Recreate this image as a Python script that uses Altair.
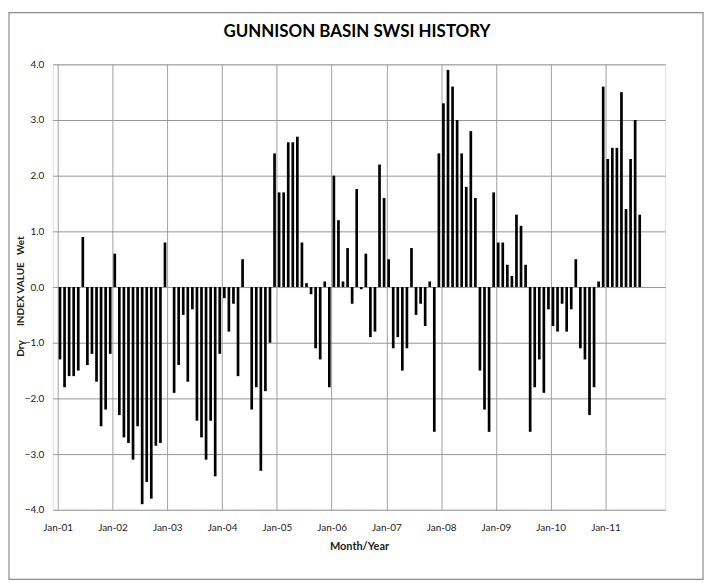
import altair as alt
import pandas as pd

# Monthly SWSI values, Jan-2001 .. Aug-2011 (None = no bar drawn)
swsi_2001 = [-1.3, -1.8, -1.6, -1.6, -1.5, 0.9, -1.4, -1.2, -1.7, -2.5, -2.2, -1.2]
swsi_2002 = [0.6, -2.3, -2.7, -2.8, -3.1, -2.5, -3.9, -3.5, -3.8, -2.85, -2.8, 0.8]
swsi_2003 = [None, -1.9, -1.4, -0.5, -1.7, -0.4, -2.4, -2.7, -3.1, -2.4, -3.4, -1.2]
swsi_2004 = [-0.2, -0.8, -0.3, -1.6, 0.5, None, -2.2, -1.8, -3.3, -1.87, -1.0, 2.4]
swsi_2005 = [1.7, 1.7, 2.6, 2.6, 2.7, 0.8, 0.07, -0.13, -1.1, -1.3, 0.1, -1.8]
swsi_2006 = [2.0, 1.2, 0.1, 0.7, -0.3, 1.76, -0.04, 0.6, -0.9, -0.8, 2.2, 1.6]
swsi_2007 = [0.5, -1.1, -0.9, -1.5, -1.1, 0.7, -0.5, -0.3, -0.7, 0.1, -2.6, 2.4]
swsi_2008 = [3.3, 3.9, 3.6, 3.0, 2.4, 1.8, 2.8, 1.6, -1.5, -2.2, -2.6, 1.7]
swsi_2009 = [0.8, 0.8, 0.4, 0.2, 1.3, 1.1, 0.4, -2.6, -1.8, -1.3, -1.9, -0.4]
swsi_2010 = [-0.7, -0.8, -0.3, -0.8, -0.4, 0.5, -1.1, -1.3, -2.3, -1.8, 0.1, 3.6]
swsi_2011 = [2.3, 2.5, 2.5, 3.5, 1.4, 2.3, 3.0, 1.3]

x_labels = ["Jan-01", "Jan-02", "Jan-03", "Jan-04", "Jan-05", "Jan-06",
            "Jan-07", "Jan-08", "Jan-09", "Jan-10", "Jan-11"]
y_ticks = [-4, -3, -2, -1, 0, 1, 2, 3, 4]
chart_title = ["GUNNISON BASIN SWSI HISTORY"]

values = (swsi_2001 + swsi_2002 + swsi_2003 + swsi_2004 + swsi_2005 + swsi_2006
          + swsi_2007 + swsi_2008 + swsi_2009 + swsi_2010 + swsi_2011)
df = pd.DataFrame({"month": [i + 0.5 for i in range(len(values))], "swsi": values}).dropna()

x_tick_values = [12 * i for i in range(len(x_labels))]
label_expr = "[" + ",".join("'%s'" % s for s in x_labels) + "][round(datum.value / 12)]"

FONT = "Lato"
NB = "\u00a0"
y_title = "Dry" + NB * 6 + "INDEX" + NB + "VALUE" + NB * 3 + "Wet"

border = alt.Chart(pd.DataFrame({"a": [0]})).mark_rect(
    fill="transparent", stroke="#8c8c8c", strokeWidth=1.2, clip=False
).encode(
    x=alt.value(-44), x2=alt.value(654), y=alt.value(-52), y2=alt.value(518)
)

title_text = alt.Chart(pd.DataFrame({"t": chart_title})).mark_text(
    font=FONT, fontSize=17, fontWeight="bold", color="#000000",
    align="center", baseline="middle", clip=False
).encode(text="t:N", x=alt.value(306), y=alt.value(-32))

bars = alt.Chart(df).mark_bar(color="#000000", size=2.7, orient="vertical").encode(
    x=alt.X(
        "month:Q",
        scale=alt.Scale(domain=[0, 132], nice=False, zero=False),
        axis=alt.Axis(
            values=x_tick_values, labelExpr=label_expr, grid=True, gridColor="#a0a0a0",
            ticks=False, domain=False, labelPadding=13, labelFontSize=10, labelFont=FONT,
            labelColor="#222222", title="Month/Year", titleFont=FONT, titleFontSize=11,
            titleFontWeight="bold", titleColor="#222222", titlePadding=8,
        ),
    ),
    y=alt.Y(
        "swsi:Q",
        scale=alt.Scale(domain=[-4, 4], nice=False),
        axis=alt.Axis(
            values=y_ticks, format=".1f", grid=True, gridColor="#959595", ticks=False,
            domain=False, labelPadding=9, labelFontSize=10, labelFont=FONT,
            labelColor="#222222", title=y_title, titleFont=FONT, titleFontSize=10,
            titleFontWeight="bold", titleColor="#222222", titleX=-32, titleY=233,
            titleAngle=270, titleAlign="center", titleBaseline="middle",
        ),
    ),
)

chart = alt.layer(border, bars, title_text).properties(
    width=616,
    height=448,
    autosize=alt.AutoSizeParams(type="none"),
    padding={"left": 45, "top": 55, "right": 39, "bottom": 71},
).configure_view(stroke="#8c8c8c", strokeWidth=1).configure(background="white")

chart.save("out.html", embed_options={"renderer": "svg", "actions": False})
